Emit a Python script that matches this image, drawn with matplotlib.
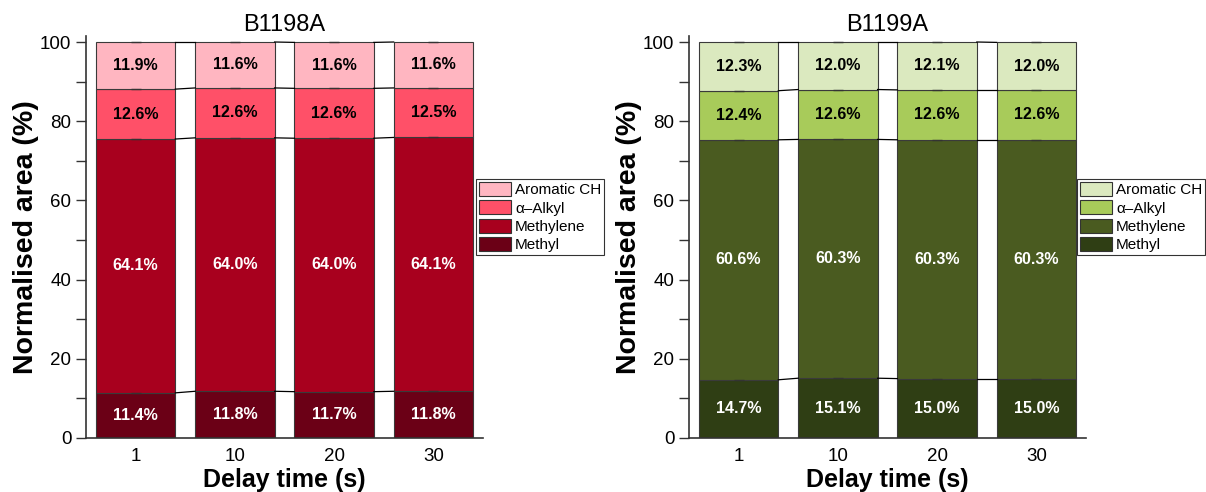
import matplotlib
matplotlib.use("Agg")
import matplotlib.pyplot as plt
import numpy as np
from matplotlib.patches import Patch

plt.rcParams['font.family'] = ['Liberation Sans', 'DejaVu Sans']

delay_labels = ["1", "10", "20", "30"]
components = ["Methyl", "Methylene", "\u03b1\u2013Alkyl", "Aromatic CH"]

b1198_methyl = [11.4, 11.8, 11.7, 11.8]
b1198_methylene = [64.1, 64.0, 64.0, 64.1]
b1198_alkyl = [12.6, 12.6, 12.6, 12.5]
b1198_aromatic = [11.9, 11.6, 11.6, 11.6]

b1199_methyl = [14.7, 15.1, 15.0, 15.0]
b1199_methylene = [60.6, 60.3, 60.3, 60.3]
b1199_alkyl = [12.4, 12.6, 12.6, 12.6]
b1199_aromatic = [12.3, 12.0, 12.1, 12.0]

red_colors = ["#6b0016", "#a8001e", "#ff5068", "#ffb6c1"]
green_colors = ["#2f3e14", "#4a5b20", "#a8cb5a", "#dbe9bf"]
text_colors = ["white", "white", "black", "black"]

fig = plt.figure(figsize=(12.06, 4.92), dpi=100)
W, H = 1206, 492


def draw(ax_rect, title, series, colors, legend_x):
    ax = fig.add_axes(ax_rect)
    x = np.arange(len(delay_labels))
    width = 0.8
    bottom = np.zeros(len(x))
    for i, vals in enumerate(series):
        vals = np.array(vals, dtype=float)
        ax.bar(x, vals, width, bottom=bottom, color=colors[i],
               edgecolor="#3a3a3a", linewidth=0.8, zorder=2)
        for xi, b, v in zip(x, bottom, vals):
            ax.text(xi, b + v / 2, f"{v:.1f}%", ha="center", va="center",
                    fontsize=11.5, fontweight="bold", color=text_colors[i], zorder=4)
        top = bottom + vals
        # connecting lines between bars
        for j in range(len(x) - 1):
            ax.plot([x[j] + width / 2, x[j + 1] - width / 2], [top[j], top[j + 1]],
                    color="black", linewidth=0.9, zorder=3)
        # small cap marks at segment tops
        ax.scatter(x, top, marker="_", s=50, color="#333333", linewidths=1.0, zorder=3)
        bottom = top
    ax.set_xlim(-0.5, 3.5)
    ax.set_ylim(0, 101.5)
    ax.set_xticks(x)
    ax.set_xticklabels(delay_labels)
    ax.set_yticks([0, 20, 40, 60, 80, 100])
    ax.set_yticks([10, 30, 50, 70, 90], minor=True)
    ax.tick_params(axis="both", which="both", direction="out", labelsize=13.5,
                   length=7, width=1, color="#333333")
    ax.tick_params(axis="x", which="major", length=0, pad=7)
    for s in ["top", "right"]:
        ax.spines[s].set_visible(False)
    for s in ["left", "bottom"]:
        ax.spines[s].set_color("#333333")
        ax.spines[s].set_linewidth(1.2)
    ax.set_title(title, fontsize=17, pad=4)
    ax.set_xlabel("Delay time (s)", fontsize=18, fontweight="bold", labelpad=2)
    ax.set_ylabel("Normalised area (%)", fontsize=20.5, fontweight="bold", labelpad=1)
    handles = [Patch(facecolor=colors[i], edgecolor="#333333", linewidth=0.8,
                     label=components[i]) for i in range(3, -1, -1)]
    leg = fig.legend(handles=handles, loc="upper left",
                     bbox_to_anchor=(legend_x / W, 1 - 179 / H),
                     fontsize=11, frameon=True, fancybox=False,
                     edgecolor="black", handlelength=2.1, handleheight=1.0,
                     handletextpad=0.25, labelspacing=0.22, borderpad=0.2,
                     borderaxespad=0.0)
    leg.get_frame().set_linewidth(0.8)
    return ax


draw([86 / W, 1 - 438 / H, (483 - 86) / W, (438 - 42) / H * 1.015], "B1198A",
     [b1198_methyl, b1198_methylene, b1198_alkyl, b1198_aromatic], red_colors, 476)
draw([689 / W, 1 - 438 / H, (1086 - 689) / W, (438 - 42) / H * 1.015], "B1199A",
     [b1199_methyl, b1199_methylene, b1199_alkyl, b1199_aromatic], green_colors, 1077)

fig.savefig("out.png", dpi=100)
